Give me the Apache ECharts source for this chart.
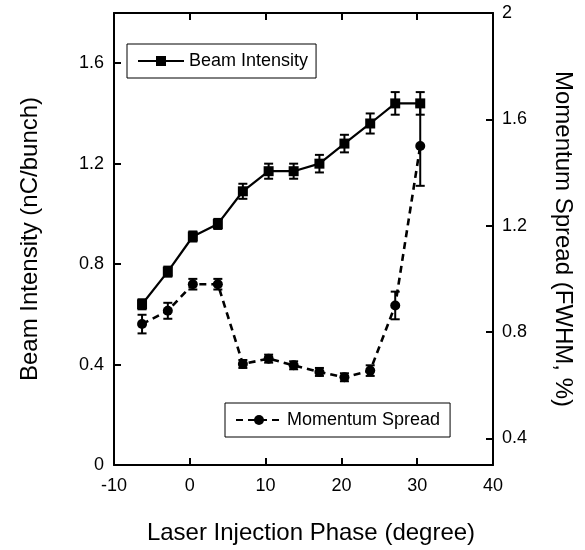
<!DOCTYPE html>
<html>
<head>
<meta charset="utf-8">
<script src="https://cdn.jsdelivr.net/npm/echarts@6/dist/echarts.min.js"></script>
<style>
  html, body { margin: 0; padding: 0; background: #fff; }
  #main { width: 585px; height: 550px; }
</style>
</head>
<body>
<div id="main"></div>
<script>
var phase = [-6.3, -2.9, 0.4, 3.7, 7.0, 10.4, 13.7, 17.1, 20.4, 23.8, 27.1, 30.4];
var beam = [0.64, 0.77, 0.91, 0.96, 1.09, 1.17, 1.17, 1.20, 1.28, 1.36, 1.44, 1.44];
var beamErr = [0.02, 0.02, 0.02, 0.02, 0.03, 0.03, 0.03, 0.035, 0.035, 0.04, 0.045, 0.045];
var spread = [0.83, 0.88, 0.98, 0.98, 0.68, 0.70, 0.675, 0.65, 0.63, 0.655, 0.90, 1.50];
var spreadErr = [0.035, 0.03, 0.02, 0.02, 0.015, 0.015, 0.015, 0.015, 0.015, 0.02, 0.052, 0.15];
var rightTicks = [0.4, 0.8, 1.2, 1.6, 2];

var FONT = 'Liberation Sans, Arial, sans-serif';

var myChart = echarts.init(document.getElementById('main'));

function pairs(ys) {
  return phase.map(function (x, i) { return [x, ys[i]]; });
}
function errData(ys, es) {
  return phase.map(function (x, i) { return [x, ys[i] - es[i], ys[i] + es[i]]; });
}
function errorBar(params, api) {
  var x = api.value(0);
  var lo = api.coord([x, api.value(1)]);
  var hi = api.coord([x, api.value(2)]);
  var w = 4.5;
  var st = { stroke: '#000', lineWidth: 2 };
  return {
    type: 'group',
    children: [
      { type: 'line', shape: { x1: lo[0], y1: lo[1], x2: hi[0], y2: hi[1] }, style: st },
      { type: 'line', shape: { x1: lo[0] - w, y1: lo[1], x2: lo[0] + w, y2: lo[1] }, style: st },
      { type: 'line', shape: { x1: hi[0] - w, y1: hi[1], x2: hi[0] + w, y2: hi[1] }, style: st }
    ]
  };
}

var axisLine = { show: true, onZero: false, lineStyle: { color: '#000', width: 2 } };
var tick = { show: true, inside: true, length: 7, lineStyle: { color: '#000', width: 2 } };
var label = { color: '#000', fontSize: 18, fontFamily: FONT };
var nameStyle = { color: '#000', fontSize: 24, fontFamily: FONT };

var option = {
  animation: false,
  backgroundColor: '#fff',
  grid: { left: 114, right: 92, top: 13, bottom: 84 },
  legend: [
    {
      data: ['Beam Intensity'],
      left: 127, top: 44,
      padding: [8, 8, 8, 10],
      borderColor: '#000', borderWidth: 1,
      itemWidth: 46, itemHeight: 12.5,
      textStyle: { color: '#000', fontSize: 18, fontFamily: FONT }
    },
    {
      data: ['Momentum Spread'],
      left: 225, top: 403,
      padding: [8, 10, 8, 10],
      borderColor: '#000', borderWidth: 1,
      itemWidth: 46, itemHeight: 12.5,
      textStyle: { color: '#000', fontSize: 18, fontFamily: FONT }
    }
  ],
  xAxis: [
    {
      type: 'value', min: -10, max: 40, interval: 10,
      axisLine: axisLine, axisTick: tick,
      axisLabel: Object.assign({ margin: 12 }, label),
      splitLine: { show: false },
      name: 'Laser Injection Phase (degree)',
      nameLocation: 'middle', nameGap: 56,
      nameTextStyle: Object.assign({ padding: [0, 0, 0, 15] }, nameStyle)
    },
    {
      type: 'value', position: 'top', min: -10, max: 40, interval: 10,
      axisLine: axisLine, axisTick: tick,
      axisLabel: { show: false }, splitLine: { show: false }
    }
  ],
  yAxis: [
    {
      type: 'value', position: 'left', min: 0, max: 1.8, interval: 0.4,
      axisLine: axisLine, axisTick: tick,
      axisLabel: Object.assign({ margin: 10, showMaxLabel: false }, label),
      splitLine: { show: false },
      name: 'Beam Intensity (nC/bunch)',
      nameLocation: 'middle', nameGap: 72,
      nameTextStyle: nameStyle
    },
    {
      type: 'value', position: 'right', min: 0.3, max: 2,
      axisLine: axisLine,
      axisTick: Object.assign({ customValues: rightTicks }, tick),
      axisLabel: Object.assign({ margin: 9, customValues: rightTicks }, label),
      splitLine: { show: false },
      name: 'Momentum Spread (FWHM, %)',
      nameLocation: 'middle', nameGap: 58, nameRotate: -90,
      nameTextStyle: nameStyle
    }
  ],
  series: [
    {
      type: 'custom', xAxisIndex: 0, yAxisIndex: 0,
      renderItem: errorBar, data: errData(beam, beamErr), z: 1,
      encode: { x: 0, y: [1, 2] }
    },
    {
      type: 'custom', xAxisIndex: 0, yAxisIndex: 1,
      renderItem: errorBar, data: errData(spread, spreadErr), z: 1,
      encode: { x: 0, y: [1, 2] }
    },
    {
      name: 'Beam Intensity', type: 'line', xAxisIndex: 0, yAxisIndex: 0,
      data: pairs(beam), symbol: 'rect', symbolSize: 10,
      itemStyle: { color: '#000' },
      lineStyle: { color: '#000', width: 2.2 }, z: 3
    },
    {
      name: 'Momentum Spread', type: 'line', xAxisIndex: 0, yAxisIndex: 1,
      data: pairs(spread), symbol: 'circle', symbolSize: 10,
      itemStyle: { color: '#000' },
      lineStyle: { color: '#000', width: 2.6, type: [7, 5] }, z: 2
    }
  ]
};
myChart.setOption(option);
</script>
</body>
</html>
